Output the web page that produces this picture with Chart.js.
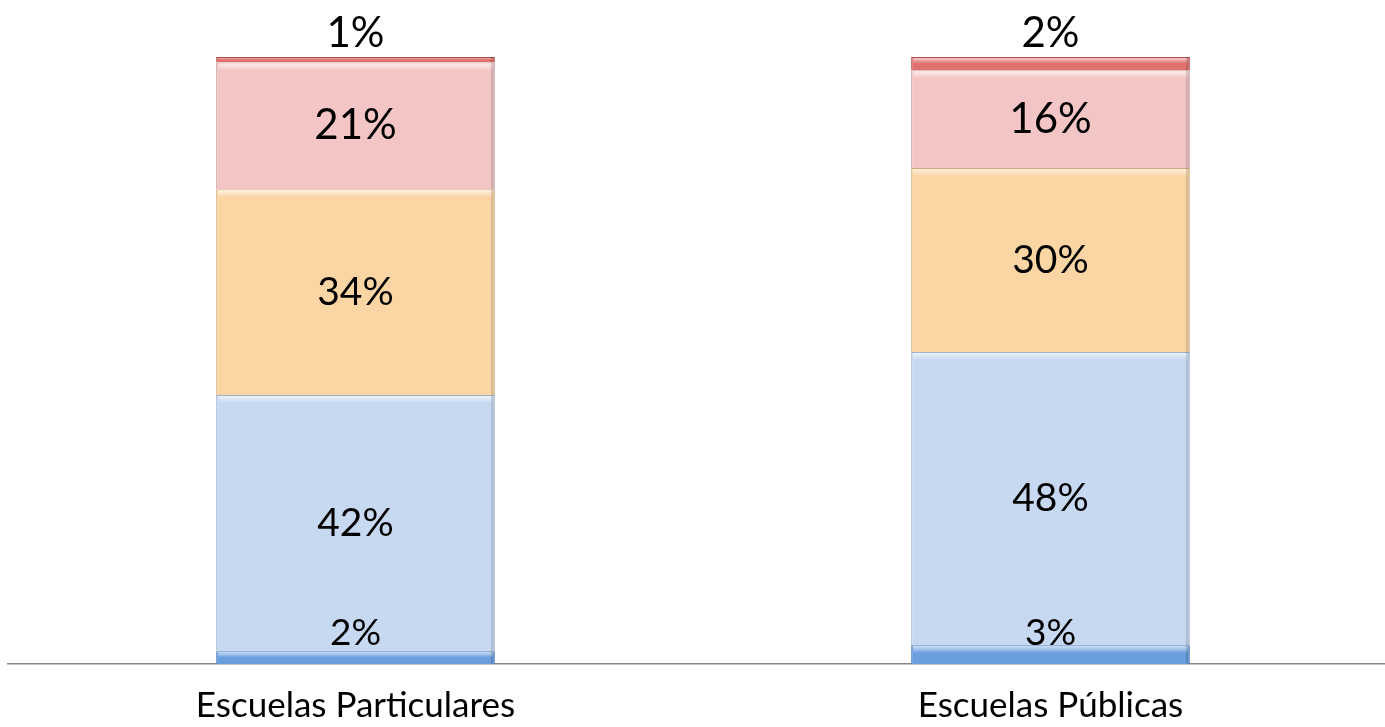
<!DOCTYPE html>
<html>
<head>
<meta charset="utf-8">
<script src="https://cdn.jsdelivr.net/npm/chart.js@4"></script>
<style>
  html, body { margin: 0; padding: 0; background: #fff; overflow: hidden; }
  .chart-container { width: 1400px; height: 727px; }
</style>
</head>
<body>
<div class="chart-container"><canvas id="schoolsChart" width="1400" height="727"></canvas></div>
<script>
const categories = ["Escuelas Particulares", "Escuelas Públicas"];
// bottom to top segments, in percent
const segment1 = [2.1, 3.1];
const segment2 = [42.2, 48.3];
const segment3 = [33.9, 30.3];
const segment4 = [20.9, 16.1];
const segment5 = [0.9, 2.2];

const fills = ["#6a9edf", "#c6d9f1", "#fcd5a4", "#f4c5c5", "#df706d"];
const edges = ["#4a7cbf", "#9fb2cc", "#d2aa7c", "#c79a9a", "#a84a48"];
const labelSizes = [37, 39, 39, 42, 42];

// labels: bottom one sits above its segment, top one sits above the bar
const segmentLabels = {
    id: "segmentLabels",
    afterDatasetsDraw(chart) {
        const ctx = chart.ctx;
        const base = chart.scales.y.getPixelForValue(0);
        ctx.save();
        ctx.fillStyle = "#000";
        ctx.textAlign = "center";
        ctx.textBaseline = "middle";
        const last = chart.data.datasets.length - 1;
        chart.data.datasets.forEach((ds, i) => {
            const meta = chart.getDatasetMeta(i);
            ctx.font = labelSizes[i] + "px Lato";
            meta.data.forEach((bar, j) => {
                const text = Math.round(ds.data[j]) + "%";
                let y = (bar.y + bar.base) / 2;
                if (i === 0) y = base - 31;
                if (i === last) y = bar.y - 24;
                ctx.fillText(text, bar.x, y);
            });
        });
        ctx.restore();
    }
};

// simple bevel highlight on each segment
const bevel = {
    id: "bevel",
    afterDatasetDraw(chart, args) {
        const ctx = chart.ctx;
        args.meta.data.forEach((bar) => {
            const w = bar.width;
            const left = bar.x - w / 2;
            const h = Math.abs(bar.base - bar.y);
            const band = Math.min(8, h / 2);
            const g = ctx.createLinearGradient(0, bar.y, 0, bar.y + band);
            g.addColorStop(0, "rgba(255,255,255,0.75)");
            g.addColorStop(1, "rgba(255,255,255,0)");
            ctx.save();
            ctx.fillStyle = g;
            ctx.fillRect(left + 2, bar.y + 1, w - 4, band);
            ctx.fillStyle = "rgba(0,0,0,0.12)";
            ctx.fillRect(left + w - 4, bar.y, 3, h);
            ctx.restore();
        });
    }
};

const seriesData = [segment1, segment2, segment3, segment4, segment5];

new Chart(document.getElementById("schoolsChart").getContext("2d"), {
    type: "bar",
    data: {
        labels: categories,
        datasets: seriesData.map((d, i) => ({
            data: d,
            backgroundColor: fills[i],
            borderColor: edges[i],
            borderWidth: 1,
            barPercentage: 0.401,
            categoryPercentage: 1,
        })),
    },
    options: {
        responsive: false,
        animation: false,
        layout: { padding: { top: 57, left: 8, right: 2, bottom: 0 } },
        plugins: {
            legend: { display: false },
            tooltip: { enabled: false },
        },
        scales: {
            x: {
                stacked: true,
                grid: { display: false, drawTicks: false },
                border: { color: "#868686", width: 1.5 },
                ticks: { color: "#000", font: { family: "Lato", size: 35 }, padding: 21 },
                afterFit: (axis) => { axis.height = 63; },
            },
            y: {
                stacked: true,
                display: false,
                min: 0,
                max: 100,
            },
        },
    },
    plugins: [bevel, segmentLabels],
});
</script>
</body>
</html>
